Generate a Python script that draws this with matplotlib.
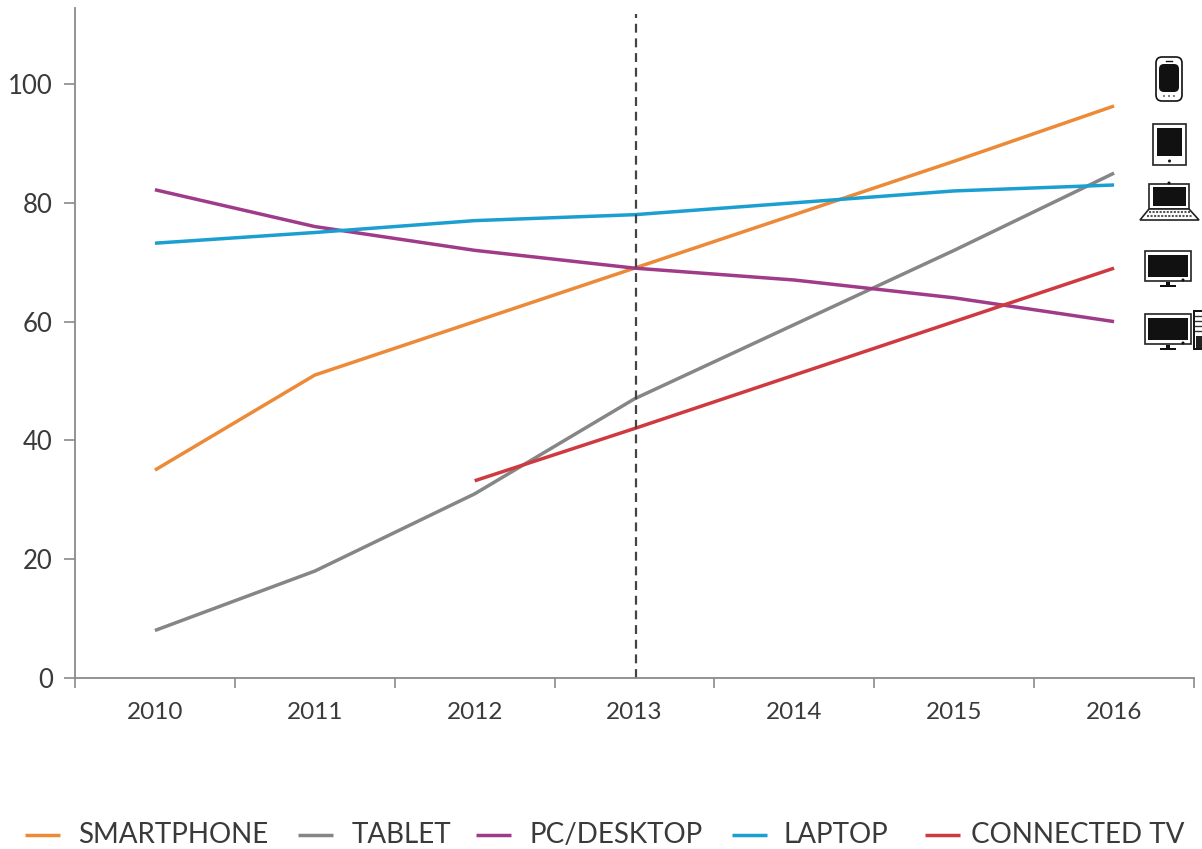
import matplotlib
matplotlib.use("Agg")
import matplotlib.pyplot as plt
from matplotlib.patches import Rectangle, FancyBboxPatch, Polygon, Circle

plt.rcParams['font.family'] = ['Lato', 'DejaVu Sans']

years = ["2010", "2011", "2012", "2013", "2014", "2015", "2016"]
smartphone = [35, 51, 60, 69, 78, 87, 96.3]
tablet = [8, 18, 31, 47, 59.5, 72, 85]
desktop = [82.2, 76, 72, 69, 67, 64, 60]
laptop = [73.2, 75, 77, 78, 80, 82, 83]
connected_tv = [None, None, 33.2, 42, 51, 60, 69]
y_ticks = [0, 20, 40, 60, 80, 100]
names = ["SMARTPHONE", "TABLET", "PC/DESKTOP", "LAPTOP", "CONNECTED TV"]
colours = ["#ec8a37", "#868686", "#a03b8a", "#1b9fd1", "#cf3a40"]

W, H = 1202, 849
figure = plt.figure(figsize=(W / 100, H / 100), dpi=100)
axes = figure.add_axes([75 / W, 1 - 678 / H, (1194 - 75) / W, (678 - 8) / H])

series = [smartphone, tablet, desktop, laptop, connected_tv]
for values, colour in zip(series, colours):
    xs = [i for i, v in enumerate(values) if v is not None]
    ys = [v for v in values if v is not None]
    axes.plot(xs, ys, color=colour, linewidth=2.5, solid_capstyle="butt")

axes.plot([3.01, 3.01], [0, 111.8], color="#444444", linewidth=1.6, dashes=(4, 2.6))

axes.set_xlim(-0.5, 6.5)
axes.set_ylim(0, 670 / 5.94)
axes.set_yticks(y_ticks)
axes.set_xticks(range(len(years)))
axes.set_xticklabels(years)
axes.set_xticks([i - 0.5 for i in range(8)], minor=True)
axes.tick_params(axis="x", which="major", length=0, pad=17, labelsize=17.5, labelcolor="#3a3a3a")
axes.tick_params(axis="x", which="minor", length=7, width=1.2, color="#8a8a8a")
axes.tick_params(axis="y", length=8, width=1.2, color="#8a8a8a", pad=8, labelsize=18.5, labelcolor="#3a3a3a")
axes.spines["top"].set_visible(False)
axes.spines["right"].set_visible(False)
for side in ["left", "bottom"]:
    axes.spines[side].set_color("#8a8a8a")
    axes.spines[side].set_linewidth(1.3)

# overlay in pixels for the legend and the device icons
over = figure.add_axes([0, 0, 1, 1])
over.set_xlim(0, W)
over.set_ylim(H, 0)
over.axis("off")

handle_x = [25, 298, 476, 732, 925]
text_x = [78, 352, 529, 784, 971]
for name, colour, hx, tx in zip(names, colours, handle_x, text_x):
    over.plot([hx, hx + 35], [835, 835], color=colour, linewidth=2.5, solid_capstyle="butt")
    over.text(tx, 835, name, fontsize=20, color="#3a3a3a", va="center", ha="left")


def rounded(x, y, w, h, r, fc="white", ec="#111111", lw=1.2):
    over.add_patch(FancyBboxPatch((x + r, y + r), w - 2 * r, h - 2 * r, boxstyle=f"round,pad={r}",
                                  fc=fc, ec=ec, lw=lw, clip_on=False))


def stand(cx, y):
    over.add_patch(Rectangle((cx - 2, y), 4, 3, fc="#111111", ec="none"))
    over.add_patch(Rectangle((cx - 8, y + 3), 16, 2, fc="#111111", ec="none"))


# smartphone
rounded(1156, 57, 26, 44, 6)
rounded(1159, 64, 20, 28, 5, fc="#111111", lw=0)
over.plot([1166, 1172], [60.5, 60.5], color="#111111", lw=1)
for dot in [1164, 1169, 1174]:
    over.add_patch(Circle((dot, 96), 0.8, fc="#111111", ec="none"))

# tablet
over.add_patch(Rectangle((1153, 124), 33, 41, fc="white", ec="#222222", lw=1.2))
over.add_patch(Rectangle((1157, 128), 25, 28, fc="#111111", ec="none"))
over.add_patch(Circle((1169.5, 161), 1.5, fc="#111111", ec="none"))

# laptop
over.add_patch(Rectangle((1149, 184), 40, 25, fc="white", ec="#222222", lw=1.2))
over.add_patch(Rectangle((1153, 187), 33, 19, fc="#111111", ec="none"))
over.add_patch(Circle((1169, 183), 1.5, fc="#111111", ec="none"))
over.add_patch(Polygon([(1149, 209), (1189, 209), (1199, 220), (1140, 220)], fc="white", ec="#222222", lw=1.2))
over.plot([1149, 1190], [212, 212], color="#555555", lw=1.5, dashes=(1, 0.7))
over.plot([1147, 1192], [215.5, 215.5], color="#555555", lw=1.5, dashes=(1, 0.7))

# connected tv
over.add_patch(Rectangle((1145, 251), 46, 30, fc="white", ec="#222222", lw=1.2))
over.add_patch(Rectangle((1148, 255), 40, 22, fc="#111111", ec="none"))
over.add_patch(Circle((1183, 280), 1.5, fc="#111111", ec="none"))
stand(1168, 282)

# pc with tower
over.add_patch(Rectangle((1145, 314), 46, 30, fc="white", ec="#222222", lw=1.2))
over.add_patch(Rectangle((1148, 318), 40, 22, fc="#111111", ec="none"))
over.add_patch(Circle((1183, 343), 1.5, fc="#111111", ec="none"))
stand(1168, 345)
over.add_patch(Rectangle((1194, 311), 10, 38, fc="white", ec="#111111", lw=1.4, clip_on=True))
for slot_y in [316, 321, 326, 331]:
    over.plot([1195, 1202], [slot_y, slot_y], color="#333333", lw=1)
over.add_patch(Rectangle((1196, 336), 6, 12, fc="#222222", ec="none"))

figure.savefig("out.png", dpi=100)
